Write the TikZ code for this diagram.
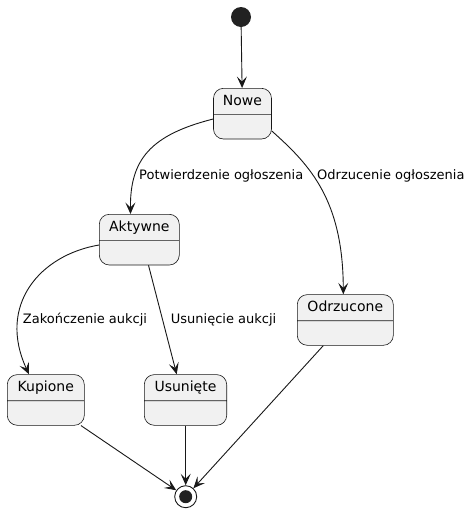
\documentclass[tikz,border=0pt]{standalone}
\usepackage{fontspec}
\setmainfont{DejaVu Sans}
\usetikzlibrary{shapes.multipart,arrows.meta}
\definecolor{stfill}{HTML}{F1F1F1}
\definecolor{stline}{HTML}{181818}
\definecolor{dotc}{HTML}{222222}
\begin{document}
\begin{tikzpicture}[x=1pt,y=-1pt,
  state/.style={rectangle split, rectangle split parts=2, draw=stline, fill=stfill,
    line width=0.6pt, rounded corners=10pt, font=\fontsize{14}{16}\selectfont,
    text height=11pt, text depth=2.5pt, inner ysep=6pt, inner xsep=0pt, align=center,
    rectangle split empty part height=9.5pt, rectangle split empty part depth=2.5pt,
    anchor=north},
  edge/.style={draw=stline, line width=0.9pt, -{Stealth[length=11.5pt,width=10pt,inset=5pt]}},
  lbl/.style={font=\fontsize{13}{15}\selectfont, anchor=west, inner sep=0pt}]
\useasboundingbox (0,0) rectangle (469,512);
\fill[white] (0,0) rectangle (469,512);
% states
\node[circle, fill=dotc, minimum size=20pt, inner sep=0pt] (init) at (241,17) {};
\node[state, minimum width=58pt] (nowe) at (242.5,88) {Nowe\nodepart{two}};
\node[state, minimum width=80pt] (akt) at (139.3,214) {Aktywne\nodepart{two}};
\node[state, minimum width=96pt] (odrz) at (345.3,294.3) {Odrzucone\nodepart{two}};
\node[state, minimum width=77pt] (kup) at (45.8,374.3) {Kupione\nodepart{two}};
\node[state, minimum width=82.4pt] (us) at (185.5,374.3) {Usunięte\nodepart{two}};
\node[circle, draw=stline, fill=white, line width=0.9pt, minimum size=22pt, inner sep=0pt] (fin) at (185.7,496.7) {};
\node[circle, fill=dotc, minimum size=13pt, inner sep=0pt] (findot) at (fin.center) {};
% transitions
\draw[edge] (init) -- (nowe);
\draw[edge] (nowe.west |- 0,119) .. controls (150,135) and (130,160) .. (akt.north -| 130.5,0);
\draw[edge] (nowe.east |- 0,131) .. controls (310,165) and (343,200) .. (odrz.north -| 343.3,0);
\draw[edge] (akt.west |- 0,245) .. controls (40,255) and (-3,305) .. (kup.north -| 29,0);
\draw[edge] (akt.south -| 148.5,0) -- (us.north -| 176.7,0);
\draw[edge] (kup.south -| 81,0) -- (fin);
\draw[edge] (us.south -| fin) -- (fin);
\draw[edge] (odrz.south -| 323.3,0) -- (fin);
% labels
\node[lbl] (l1) at (139,176) {Potwierdzenie ogłoszenia};
\node[lbl] (l2) at (317,176) {Odrzucenie ogłoszenia};
\node[lbl] (l3) at (22.7,320) {Zakończenie aukcji};
\node[lbl] (l4) at (170.7,320) {Usunięcie aukcji};
\end{tikzpicture}
\end{document}
